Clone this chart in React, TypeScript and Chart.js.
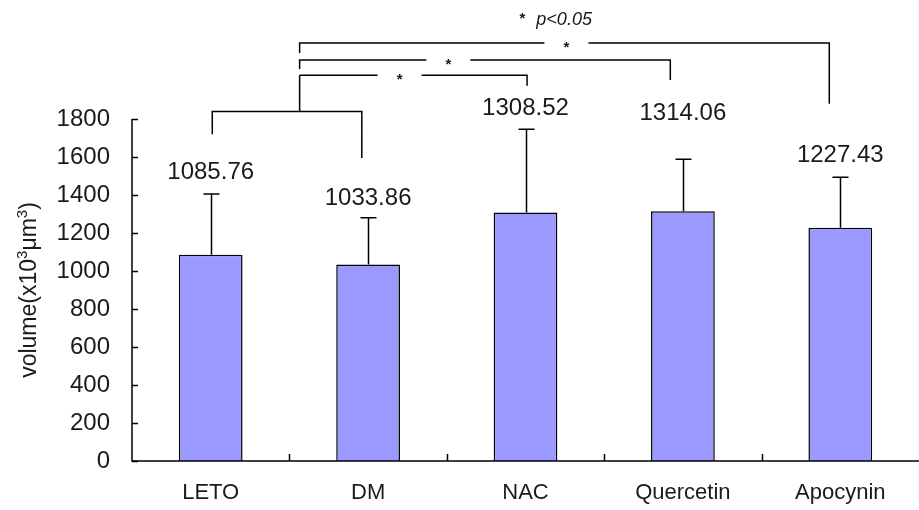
import { useEffect, useRef } from 'react';
import { Chart, registerables } from 'chart.js';

Chart.register(...registerables);

// Group names, mean cell volume and the upper standard deviation of each group
const categories = ['LETO', 'DM', 'NAC', 'Quercetin', 'Apocynin'];
const meanVolume = [1085.76, 1033.86, 1308.52, 1314.06, 1227.43];
const sdVolume = [319, 246, 437, 274, 266];
const valueLabels = ['1085.76', '1033.86', '1308.52', '1314.06', '1227.43'];

// Y axis range and step
const yMin = 0;
const yMax = 1800;
const yStep = 200;

// Significance brackets (x in category units, heights in axis units)
const groupLegX = [0.01, 0.96];
const groupLegEnd = [1720, 1595];
const groupBarLevel = 1840;
const groupStemX = 0.565;
const compTargetX = [2.01, 2.92, 3.93];
const compLevel = [2030, 2110, 2200];
const compLegEnd = [1975, 2005, 1880];
const compStartDrop = [2030, 2063, 2147];
const compStarX = [1.2, 1.51, 2.26];
const noteX = 1.98;
const noteLevel = 2295;

// Pixel lift of each value label above its error bar
const labelLift = [22, 19, 21, 46, 22];

// Axis title pieces: [text, superscript?]
const yTitleParts: [string, boolean][] = [
  ['volume(x10', false],
  ['3', true],
  ['μm', false],
  ['3', true],
  [')', false],
];

const FONT = "'Liberation Sans', Arial, Helvetica, sans-serif";
const INK = '#1a1a1a';

const annotations = {
  id: 'annotations',
  afterDatasetsDraw(chart: any) {
    const { ctx, chartArea, scales } = chart;
    const x = scales.x;
    const y = scales.y;
    const px = (v: number) => x.getPixelForValue(v);
    const py = (v: number) => y.getPixelForValue(v);

    ctx.save();
    ctx.strokeStyle = '#000';
    ctx.fillStyle = INK;
    ctx.lineWidth = 1.5;
    ctx.lineCap = 'butt';

    // axis lines
    ctx.beginPath();
    ctx.moveTo(chartArea.left, py(yMax));
    ctx.lineTo(chartArea.left, chartArea.bottom);
    ctx.lineTo(chartArea.right, chartArea.bottom);
    ctx.stroke();

    // inward tick marks on the value axis
    ctx.beginPath();
    for (let v = yMin; v <= yMax; v += yStep) {
      const yy = Math.round(py(v)) + 0.5;
      ctx.moveTo(chartArea.left, yy);
      ctx.lineTo(chartArea.left + 6, yy);
    }
    // tick marks between categories
    for (let i = 0; i < categories.length - 1; i++) {
      const xx = Math.round(px(i + 0.5)) + 0.5;
      ctx.moveTo(xx, chartArea.bottom);
      ctx.lineTo(xx, chartArea.bottom - 7);
    }
    ctx.stroke();

    // error bars (upper SD)
    ctx.beginPath();
    meanVolume.forEach((m, i) => {
      const cx = Math.round(px(i)) + 0.5;
      const top = py(m + sdVolume[i]);
      ctx.moveTo(cx, py(m));
      ctx.lineTo(cx, top);
      ctx.moveTo(cx - 8, top);
      ctx.lineTo(cx + 8, top);
    });
    ctx.stroke();

    // value labels
    ctx.font = `24px ${FONT}`;
    ctx.textAlign = 'center';
    ctx.textBaseline = 'middle';
    meanVolume.forEach((m, i) => {
      ctx.fillText(valueLabels[i], px(i), py(m + sdVolume[i]) - labelLift[i]);
    });

    // bracket joining LETO and DM
    ctx.beginPath();
    ctx.moveTo(px(groupLegX[0]), py(groupLegEnd[0]));
    ctx.lineTo(px(groupLegX[0]), py(groupBarLevel));
    ctx.lineTo(px(groupLegX[1]), py(groupBarLevel));
    ctx.lineTo(px(groupLegX[1]), py(groupLegEnd[1]));
    ctx.moveTo(px(groupStemX), py(groupBarLevel));
    ctx.lineTo(px(groupStemX), py(compLevel[0]));
    ctx.stroke();

    // comparisons against the treated groups
    const gap = 22;
    ctx.font = `bold 15px ${FONT}`;
    ctx.textBaseline = 'alphabetic';
    compTargetX.forEach((tx, k) => {
      const lvl = py(compLevel[k]);
      const sx = px(groupStemX);
      const starX = px(compStarX[k]);
      ctx.beginPath();
      ctx.moveTo(sx, py(compStartDrop[k]));
      ctx.lineTo(sx, lvl);
      ctx.lineTo(starX - gap, lvl);
      ctx.moveTo(starX + gap, lvl);
      ctx.lineTo(px(tx), lvl);
      ctx.lineTo(px(tx), py(compLegEnd[k]));
      ctx.stroke();
      ctx.fillText('*', starX, lvl + 8.5);
    });

    // significance note
    const nx = px(noteX);
    const ny = py(noteLevel);
    ctx.textAlign = 'center';
    ctx.fillText('*', nx, ny - 2);
    ctx.textAlign = 'left';
    ctx.font = `italic 18px ${FONT}`;
    ctx.fillText('p<0.05', nx + 14, ny);

    // value axis title with superscripts
    ctx.save();
    ctx.translate(28, (chartArea.top + chartArea.bottom) / 2);
    ctx.rotate(-Math.PI / 2);
    ctx.textAlign = 'left';
    ctx.textBaseline = 'alphabetic';
    const mainFont = `23px ${FONT}`;
    const supFont = `15px ${FONT}`;
    let total = 0;
    yTitleParts.forEach(([t, sup]) => {
      ctx.font = sup ? supFont : mainFont;
      total += ctx.measureText(t).width;
    });
    let cursor = -total / 2;
    const base = 8;
    yTitleParts.forEach(([t, sup]) => {
      ctx.font = sup ? supFont : mainFont;
      ctx.fillText(t, cursor, sup ? base - 9 : base);
      cursor += ctx.measureText(t).width;
    });
    ctx.restore();

    ctx.restore();
  },
};

export default function App() {
  const canvasRef = useRef<HTMLCanvasElement | null>(null);

  useEffect(() => {
    if (!canvasRef.current) return;
    const chart = new Chart(canvasRef.current, {
      type: 'bar',
      data: {
        labels: categories,
        datasets: [
          {
            data: meanVolume,
            backgroundColor: '#9999FF',
            borderColor: '#000000',
            borderWidth: 1.5,
            categoryPercentage: 1,
            barPercentage: 0.405,
          },
        ],
      },
      options: {
        animation: false,
        responsive: true,
        maintainAspectRatio: false,
        layout: { padding: { top: 119, left: 0, right: 0, bottom: 0 } },
        plugins: {
          legend: { display: false },
          tooltip: { enabled: false },
        },
        scales: {
          x: {
            grid: { display: false, drawTicks: false },
            border: { display: false },
            ticks: {
              font: { family: FONT, size: 22 },
              color: INK,
              padding: 19,
              maxRotation: 0,
              autoSkip: false,
            },
            afterFit: (s: any) => {
              s.height = 49;
            },
          },
          y: {
            min: yMin,
            max: yMax,
            grid: { display: false, drawTicks: false },
            border: { display: false },
            ticks: {
              stepSize: yStep,
              font: { family: FONT, size: 24 },
              color: INK,
              padding: 22,
              callback: (v: any) => String(v),
            },
            afterFit: (s: any) => {
              s.width = 132;
            },
          },
        },
      },
      plugins: [annotations],
    });
    return () => chart.destroy();
  }, []);

  return (
    <div style={{ position: 'absolute', left: 0, top: 0, width: 919, height: 510, background: '#fff' }}>
      <canvas ref={canvasRef} />
    </div>
  );
}
